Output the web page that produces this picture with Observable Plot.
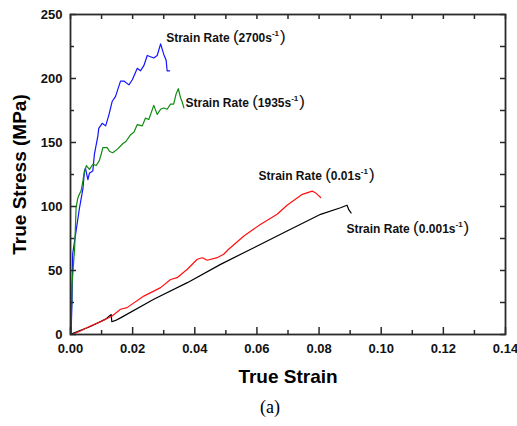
<!DOCTYPE html>
<html><head><meta charset="utf-8">
<script src="https://cdn.jsdelivr.net/npm/d3@7"></script>
<script src="https://cdn.jsdelivr.net/npm/@observablehq/plot@0.6"></script>
<style>body{margin:0;background:#fff} svg{display:block}</style>
</head><body><div id="chart"></div>
<script>
// Strain rate 2700 s^-1 (blue)
const strain2700 = [0.0002,0.0003,0.0005,0.0007,0.0018,0.0029,0.0040,0.0045,0.0048,0.0056,0.0061,0.0072,0.0077,0.0088,0.0091,0.0102,0.0113,0.0123,0.0134,0.0145,0.0161,0.0172,0.0188,0.0199,0.0215,0.0225,0.0236,0.0247,0.0268,0.0279,0.0290,0.0300,0.0308,0.0311,0.0319];
const stress2700 = [0.4,10.5,26,63,81,99,114,128,130,121,126,128,141,155,161,165,163,171,182,186,198,198,195,199,208,206,210,218,216,218,227,219,214,206,206];
// Strain rate 1935 s^-1 (green)
const strain1935 = [0.0001,0.0003,0.0005,0.0011,0.0013,0.0018,0.0023,0.0029,0.0034,0.0040,0.0043,0.0051,0.0061,0.0072,0.0083,0.0093,0.0099,0.0104,0.0118,0.0126,0.0136,0.0152,0.0168,0.0179,0.0193,0.0204,0.0215,0.0231,0.0241,0.0252,0.0268,0.0279,0.0290,0.0300,0.0311,0.0322,0.0332,0.0340,0.0347,0.0354,0.0359,0.0365];
const stress1935 = [0.4,18,39,60,65,99,106,110,112,120,125,132,129,133,132,136,141,146,146,143,142,145,149,151,156,158,164,163,169,168,179,172,176,177,176,180,180,188,192,185,182,177];
// Strain rate 0.01 s^-1 (red)
const strain001 = [0.0011,0.0032,0.0064,0.0102,0.0134,0.0161,0.0182,0.0236,0.0290,0.0322,0.0343,0.0376,0.0408,0.0424,0.0440,0.0472,0.0493,0.0509,0.0558,0.0611,0.0665,0.0697,0.0746,0.0778,0.0788,0.0805];
const stress001 = [0.6,2.7,6.6,10.5,14.5,19.7,21,30,36.6,43,44.4,51,58.8,60,58,60,62.7,66.6,77,86,94,101,109.5,112,110.8,107];
// Strain rate 0.001 s^-1 (black)
const strain0001 = [0.0002,0.0064,0.0113,0.0131,0.0133,0.0145,0.0161,0.0268,0.0376,0.0483,0.0590,0.0697,0.0805,0.0869,0.0890,0.0896,0.0903];
const stress0001 = [0.4,6.3,12,15.6,10,11,13,27.5,40.5,54.8,67.8,80.9,93.9,99,101,97.3,95];

const seriesNames = ["2700","1935","0.01","0.001"];
const seriesColors = ["#1414ff","#0e8a0e","#ff1010","#000000"];
const drawOrder = ["0.001","0.01","2700","1935"];
const labelStrain = [0.0308,0.0370,0.0605,0.0888];
const labelStress = [231.6,180.9,123.8,82.4];

const xMajor = [0,0.02,0.04,0.06,0.08,0.10,0.12,0.14];
const xMinor = [0.01,0.03,0.05,0.07,0.09,0.11,0.13];
const yMajor = [0,50,100,150,200,250];
const yMinor = [25,75,125,175,225];

const series = {"2700": [strain2700,stress2700], "1935": [strain1935,stress1935], "0.01": [strain001,stress001], "0.001": [strain0001,stress0001]};
const rows = drawOrder.flatMap(s => series[s][0].map((x, j) => ({x, y: series[s][1][j], s})));
const labels = seriesNames.map((s, i) => ({x: labelStrain[i], y: labelStress[i], s}));

const W = 517, H = 426, mL = 70, mR = 12, mT = 14, mB = 92;
const fw = W - mL - mR, fh = H - mT - mB;
const axisColor = "#2a2a2a";
const tickStyle = {stroke: axisColor, strokeWidth: 1.5};

const chart = Plot.plot({
  width: W, height: H,
  marginLeft: mL, marginRight: mR, marginTop: mT, marginBottom: mB,
  style: {fontFamily: "'Liberation Sans', Arial, sans-serif", background: "#fff"},
  x: {domain: [0, 0.14]},
  y: {domain: [0, 250]},
  color: {domain: seriesNames, range: seriesColors},
  marks: [
    Plot.line(rows, {x: "x", y: "y", z: "s", stroke: "s", strokeWidth: 1.2}),
    Plot.tickX(xMajor, {x: d => d, insetTop: fh - 7, ...tickStyle}),
    Plot.tickX(xMinor, {x: d => d, insetTop: fh - 4, ...tickStyle}),
    Plot.tickX(xMajor.concat(xMinor), {x: d => d, insetBottom: fh - 5, ...tickStyle}),
    Plot.tickY(yMajor, {y: d => d, insetRight: fw - 6, ...tickStyle}),
    Plot.tickY(yMinor, {y: d => d, insetRight: fw - 4, ...tickStyle}),
    Plot.tickY(yMajor.concat(yMinor), {y: d => d, insetLeft: fw - 5, ...tickStyle}),
    Plot.axisX({anchor: "bottom", ticks: xMajor, tickSize: 0, tickPadding: 9, tickFormat: d3.format(".2f"), fontSize: 13, fontWeight: "bold", fill: "#111", label: null}),
    Plot.axisY({anchor: "left", ticks: yMajor, tickSize: 0, tickPadding: 8, tickFormat: d3.format("d"), fontSize: 13, fontWeight: "bold", fill: "#111", label: null}),
    Plot.frame({stroke: axisColor, strokeWidth: 1.8}),
    Plot.text(labels, {x: "x", y: "y", text: d => "Strain Rate (" + d.s + "s-1)", textAnchor: "start", lineAnchor: "middle", fontSize: 12, fontWeight: "bold", fill: "#111", className: "rate-label"}),
    Plot.text(["True Strain"], {frameAnchor: "bottom", textAnchor: "middle", lineAnchor: "middle", dy: 42, fontSize: 19, fontWeight: "bold", fill: "#000"}),
    Plot.text(["True Stress (MPa)"], {frameAnchor: "left", textAnchor: "middle", lineAnchor: "middle", dx: -51, rotate: -90, fontSize: 19, fontWeight: "bold", fill: "#000"}),
    Plot.text(["(a)"], {frameAnchor: "bottom", textAnchor: "middle", lineAnchor: "middle", dy: 73, dx: -18, fontSize: 18, fontFamily: "'Liberation Serif', 'Times New Roman', serif", fill: "#000"})
  ]
});
document.getElementById("chart").appendChild(chart);

// Rebuild rate labels with a tall parenthesis and a superscript exponent
chart.querySelectorAll(".rate-label text").forEach((t, i) => {
  const rate = seriesNames[i];
  t.textContent = "";
  const ns = "http://www.w3.org/2000/svg";
  const add = (txt, attrs) => { const s = document.createElementNS(ns, "tspan"); s.textContent = txt; for (const k in attrs) s.setAttribute(k, attrs[k]); t.appendChild(s); };
  add("Strain Rate ", {});
  add("(", {"font-size": 17, "font-weight": "normal"});
  add(rate + "s", {});
  add("-1", {"font-size": 8, dy: -6});
  add(")", {"font-size": 17, "font-weight": "normal", dy: 6, dx: 1});
});
</script></body></html>
